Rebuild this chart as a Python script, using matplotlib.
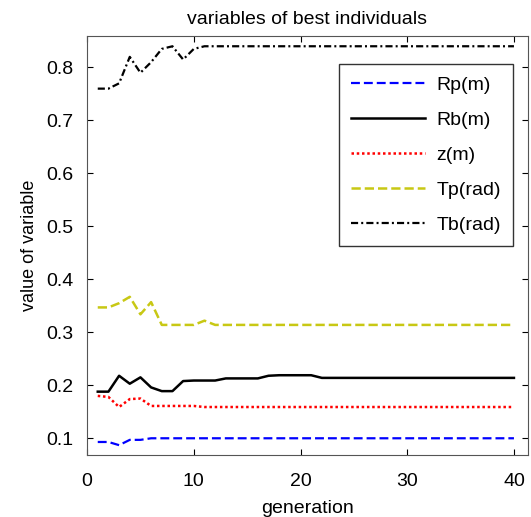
import numpy as np
import matplotlib
matplotlib.use("Agg")
import matplotlib.pyplot as plt

plt.rcParams['font.family'] = ['Liberation Sans', 'DejaVu Sans']

generation = np.arange(1, 41)

# values, generations 1..40
rp = [0.093, 0.093, 0.087, 0.097, 0.097, 0.100] + [0.100] * 34
rb = [0.188, 0.188, 0.218, 0.203, 0.215, 0.196, 0.189, 0.189, 0.208, 0.209,
      0.209, 0.209, 0.213, 0.213, 0.213, 0.213, 0.218, 0.219, 0.219, 0.219,
      0.219] + [0.214] * 19
z = [0.180, 0.178, 0.159, 0.174, 0.175, 0.161, 0.161, 0.161, 0.161, 0.161] + [0.159] * 30
tp = [0.347, 0.347, 0.355, 0.367, 0.334, 0.357, 0.314, 0.314, 0.314, 0.314,
      0.322] + [0.314] * 29
tb = [0.760, 0.760, 0.770, 0.820, 0.790, 0.810, 0.835, 0.840, 0.815, 0.835] + [0.840] * 30

labels = ['Rp(m)', 'Rb(m)', 'z(m)', 'Tp(rad)', 'Tb(rad)']

fig = plt.figure(figsize=(5.31, 5.17), dpi=100)
ax = fig.add_axes([0.164, 0.120, 0.830, 0.810])

ax.plot(generation, rp, color='#0000ff', linestyle=(0, (4, 1.8)), lw=1.6, label=labels[0])
ax.plot(generation, rb, color='black', linestyle='-', lw=1.8, label=labels[1])
ax.plot(generation, z, color='#ff0000', linestyle=(0, (1, 1.1)), lw=1.8, label=labels[2])
ax.plot(generation, tp, color='#c8c814', linestyle=(0, (3.7, 1.6)), lw=1.8, label=labels[3])
ax.plot(generation, tb, color='black', linestyle=(0, (3.2, 1.4, 0.9, 1.4)), lw=1.6, label=labels[4])

ax.set_xlim(0, 41.3)
ax.set_ylim(0.0685, 0.859)
ax.set_xticks([0, 10, 20, 30, 40])
ax.set_yticks(np.arange(0.1, 0.81, 0.1))
ax.set_yticklabels(['0.1', '0.2', '0.3', '0.4', '0.5', '0.6', '0.7', '0.8'])
ax.tick_params(direction='in', top=True, right=True, labelsize=14, length=4)
ax.tick_params(axis='x', pad=13)
ax.tick_params(axis='y', pad=10)
for s in ax.spines.values():
    s.set_color('#555555')

ax.set_title('variables of best individuals', fontsize=14, pad=9)
ax.set_xlabel('generation', fontsize=14, labelpad=7)
ax.set_ylabel('value of variable', fontsize=13, labelpad=6)

leg = ax.legend(loc='upper right', bbox_to_anchor=(0.966, 0.933), borderaxespad=0,
                fontsize=14, handlelength=3.8, labelspacing=0.9, fancybox=False,
                framealpha=1, borderpad=0.6, handletextpad=0.6)
leg.get_frame().set_edgecolor('#333333')
leg.get_frame().set_linewidth(1.0)

fig.savefig('out.png', dpi=100)
